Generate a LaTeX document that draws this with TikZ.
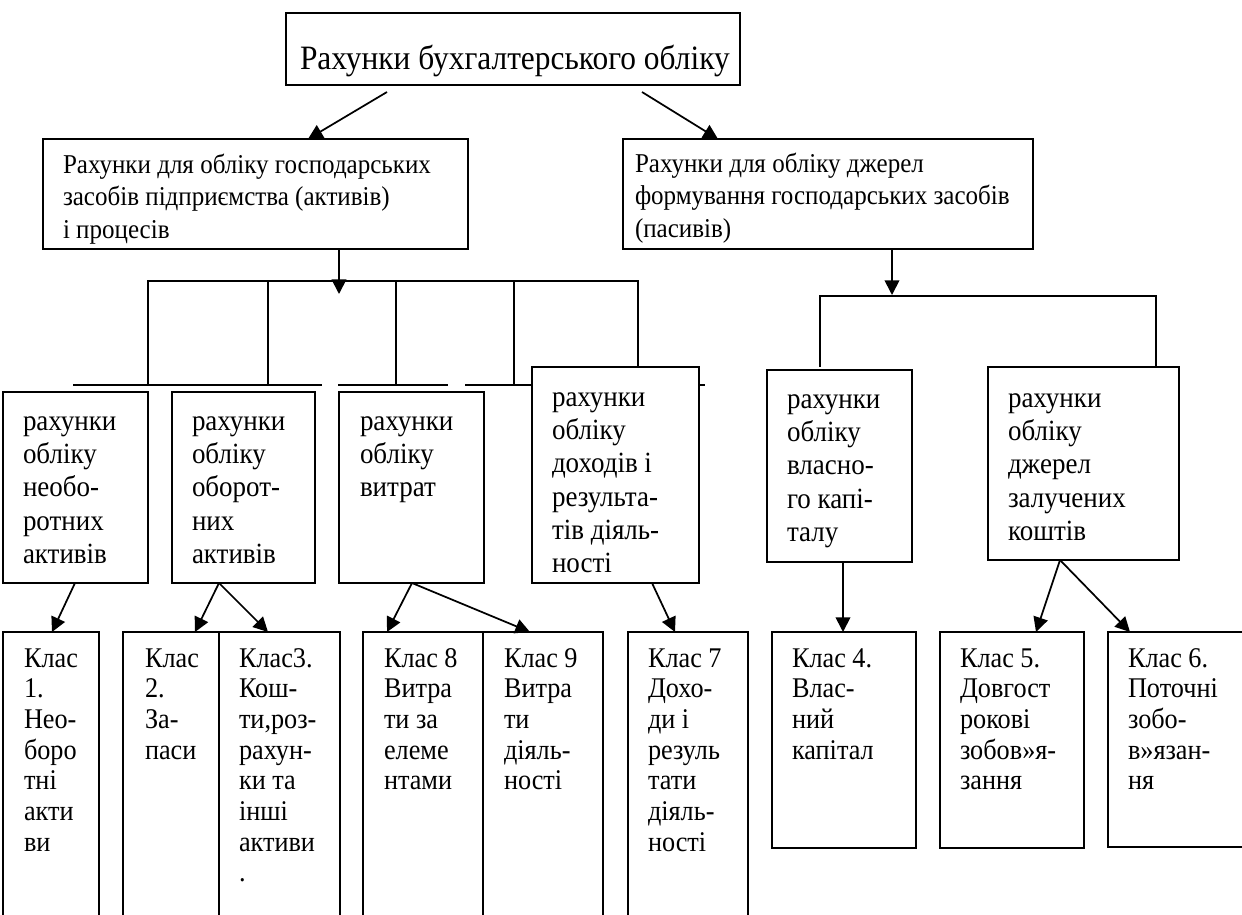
\documentclass[tikz,border=0pt]{standalone}
\usepackage{fontspec}
\setmainfont[FakeStretch=0.92]{Liberation Serif}
\usetikzlibrary{arrows.meta,calc}
\newcommand{\tb}[3]{\parbox[t]{20cm}{\fontsize{#1}{#2}\selectfont\raggedright #3}}
\newcommand{\mybox}[5]{\node[boxst, minimum width={(#4-#2)*0.75pt}, minimum height={(#5-#3)*0.75pt}] (#1) at (#2,#3) {};}
\tikzset{
  boxst/.style={draw, line width=1.5pt, fill=white, inner sep=0pt, outer sep=0pt, anchor=north west},
  txt/.style={inner sep=0pt, outer sep=0pt, anchor=base west},
  ln/.style={line width=1.5pt},
  arr/.style={line width=1.3pt, -{Triangle[length=11pt,width=11pt]}}
}
\begin{document}
\begin{tikzpicture}[x=0.75pt,y=-0.75pt]
\useasboundingbox (0,0) rectangle (1242,914);
\clip (0,0) rectangle (1242,914);
\fill[white] (0,0) rectangle (1242,914);
% brackets
\draw[ln] (148,385) -- (148,281) -- (638,281) -- (638,367);
\draw[ln] (268,281) -- (268,385);
\draw[ln] (396,281) -- (396,385);
\draw[ln] (514,281) -- (514,385);
\draw[ln] (73,385) -- (322,385);
\draw[ln] (338,385) -- (448,385);
\draw[ln] (465,385) -- (705,385);
\draw[ln] (820,367) -- (820,296) -- (1156,296) -- (1156,367);
% boxes
\mybox{top}{286}{13}{740}{85}
\mybox{L}{43}{139}{468}{249}
\mybox{R}{623}{139}{1033}{249}
\mybox{A}{3}{392}{148}{583}
\mybox{B}{172}{392}{315}{583}
\mybox{C}{339}{392}{484}{583}
\mybox{D}{532}{367}{699}{583}
\mybox{E}{767}{370}{912}{562}
\mybox{F}{988}{367}{1179}{560}
\mybox{K1}{3}{632}{99}{930}
\mybox{K2}{123}{632}{219}{930}
\mybox{K3}{219}{632}{340}{930}
\mybox{K8}{363}{632}{483}{930}
\mybox{K9}{483}{632}{603}{930}
\mybox{K7}{628}{632}{748}{930}
\mybox{K4}{772}{632}{916}{848}
\mybox{K5}{940}{632}{1084}{848}
\mybox{K6}{1108}{632}{1260}{847}
% texts
\node[txt] (ttop) at (300,69) {\tb{25.6pt}{30pt}{Рахунки бухгалтерського обліку}};
\node[txt] (tL) at (63,173) {\tb{20.4pt}{24.4pt}{Рахунки для обліку господарських\\засобів підприємства (активів)\\і процесів}};
\node[txt] (tR) at (635,172) {\tb{20.4pt}{24.4pt}{Рахунки для обліку джерел\\формування господарських засобів\\(пасивів)}};
\node[txt] (tA) at (23,430) {\tb{22pt}{25pt}{рахунки\\обліку\\необо-\\ротних\\активів}};
\node[txt] (tB) at (192,430) {\tb{22pt}{25pt}{рахунки\\обліку\\оборот-\\них\\активів}};
\node[txt] (tC) at (360,430) {\tb{22pt}{25pt}{рахунки\\обліку\\витрат}};
\node[txt] (tD) at (552,406) {\tb{22pt}{25pt}{рахунки\\обліку\\доходів і\\результа-\\тів діяль-\\ності}};
\node[txt] (tE) at (787,408) {\tb{22pt}{25pt}{рахунки\\обліку\\власно-\\го капі-\\талу}};
\node[txt] (tF) at (1008,407) {\tb{22pt}{25pt}{рахунки\\обліку\\джерел\\залучених\\коштів}};
\node[txt] (tK1) at (24,667) {\tb{21.4pt}{23pt}{Клас\\1.\\Нео-\\боро\\тні\\акти\\ви}};
\node[txt] (tK2) at (145,667) {\tb{21.4pt}{23pt}{Клас\\2.\\За-\\паси}};
\node[txt] (tK3) at (239,667) {\tb{21.4pt}{23pt}{Клас3.\\Кош-\\ти,роз-\\рахун-\\ки та\\інші\\активи\\.}};
\node[txt] (tK8) at (384,667) {\tb{21.4pt}{23pt}{Клас 8\\Витра\\ти за\\елеме\\нтами}};
\node[txt] (tK9) at (504,667) {\tb{21.4pt}{23pt}{Клас 9\\Витра\\ти\\діяль-\\ності}};
\node[txt] (tK7) at (648,667) {\tb{21.4pt}{23pt}{Клас 7\\Дохо-\\ди і\\резуль\\тати\\діяль-\\ності}};
\node[txt] (tK4) at (792,667) {\tb{21.4pt}{23pt}{Клас 4.\\Влас-\\ний\\капітал}};
\node[txt] (tK5) at (960,667) {\tb{21.4pt}{23pt}{Клас 5.\\Довгост\\рокові\\зобов»я-\\зання}};
\node[txt] (tK6) at (1128,667) {\tb{21.4pt}{23pt}{Клас 6.\\Поточні\\зобо-\\в»язан-\\ня}};
% connectors
\coordinate (ltip) at (339,294);
\coordinate (rtip) at (892,295);
\draw[arr] ($(top.south west)+(101,7)$) -- ($(L.north west)+(265,0)$);
\draw[arr] ($(top.south west)+(356,7)$) -- ($(R.north west)+(95,0)$);
\draw[arr] ($(L.south west)+(296,0)$) -- (ltip);
\draw[arr] ($(R.south west)+(269,0)$) -- (rtip);
\draw[arr] ($(A.south west)+(72,0)$) -- ($(K1.north west)+(49,0)$);
\draw[arr] ($(B.south west)+(47,0)$) -- ($(K2.north west)+(72,0)$);
\draw[arr] ($(B.south west)+(47,0)$) -- ($(K3.north west)+(49,0)$);
\draw[arr] ($(C.south west)+(73,0)$) -- ($(K8.north west)+(24,0)$);
\draw[arr] ($(C.south west)+(73,0)$) -- ($(K9.north west)+(47,0)$);
\draw[arr] ($(D.south west)+(120,0)$) -- ($(K7.north west)+(47,0)$);
\draw[arr] ($(E.south west)+(76,0)$) -- ($(K4.north west)+(71,0)$);
\draw[arr] ($(F.south west)+(72,0)$) -- ($(K5.north west)+(96,0)$);
\draw[arr] ($(F.south west)+(72,0)$) -- ($(K6.north west)+(22,0)$);
\end{tikzpicture}
\end{document}
